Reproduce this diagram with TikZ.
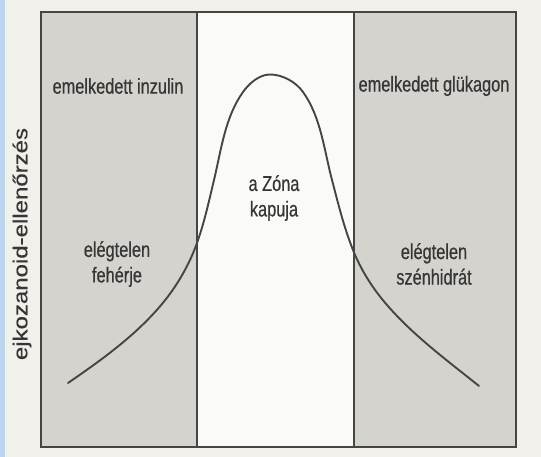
\documentclass[tikz,border=0pt]{standalone}
\usepackage{fontspec}
\setmainfont{Liberation Sans}[FakeStretch=0.76,FakeBold=0.6]
\newfontfamily\axisfont{Liberation Sans}[FakeStretch=1.2,FakeBold=0.5]
\definecolor{paper}{HTML}{F2F0EA}
\definecolor{panelgray}{HTML}{D5D3CE}
\definecolor{centerwhite}{HTML}{FAFAF7}
\definecolor{inkgray}{HTML}{454545}
\definecolor{textgray}{HTML}{363636}
\definecolor{scanblue}{HTML}{BCD6EF}
\begin{document}
\begin{tikzpicture}[x=1pt,y=-1pt,
  lbl/.style={text=textgray,font=\fontsize{21.5}{25.5}\selectfont,align=center,inner sep=0pt},
  frameline/.style={draw=inkgray,line width=1.4pt},
  curveline/.style={draw=inkgray,line width=1.9pt,line cap=round}]
\useasboundingbox (0,0) rectangle (541,457);
\fill[paper] (0,0) rectangle (541,457);
\fill[scanblue] (0,0) rectangle (5,457);
% panels
\fill[panelgray] (41,12) rectangle (197,447);
\fill[centerwhite] (197,12) rectangle (354,447);
\fill[panelgray] (354,12) rectangle (516,447);
\coordinate (dlt) at (197,12);
\coordinate (dlb) at (197,447);
\coordinate (drt) at (354,12);
\coordinate (drb) at (354,447);
\draw[frameline] (41,12) rectangle (516,447);
\draw[frameline] (dlt) -- (dlb);
\draw[frameline] (drt) -- (drb);
% bell curve
\coordinate (cl) at (68,383);
\coordinate (cr) at (479,386);
\draw[curveline] (cl)
  .. controls (101.7,359.8) and (135.8,335.4) .. (162,304)
  .. controls (177.0,286.0) and (189.1,265.0) .. (197,243)
  .. controls (204.3,222.5) and (208.95,201.2) .. (214,180)
  .. controls (221.2,150) and (225,117.2) .. (243,92)
  .. controls (249.2,83.3) and (259.3,74.5) .. (270,74.5)
  .. controls (282.5,74.5) and (295.7,81.8) .. (303,92)
  .. controls (321,117.2) and (324.1,150.1) .. (332,180)
  .. controls (338.2,203.6) and (343.9,227.3) .. (353,250)
  .. controls (361.0,270.1) and (372.8,288.7) .. (387,305)
  .. controls (413.8,335.9) and (447.1,360.4) .. (cr);
% labels
\node[lbl] (ins) at (118,86) {emelkedett inzulin};
\node[lbl] (glu) at (434,86) {emelkedett glükagon};
\node[lbl] (zona) at (274,198) {a Zóna\\kapuja};
\node[lbl] (feh) at (117,264) {elégtelen\\fehérje};
\node[lbl] (szen) at (434,264) {elégtelen\\szénhidrát};
\node[text=textgray,font=\axisfont\fontsize{20}{24}\selectfont,rotate=90,inner sep=0pt] (axis) at (22,244) {ejkozanoid-ellenőrzés};
\end{tikzpicture}
\end{document}
